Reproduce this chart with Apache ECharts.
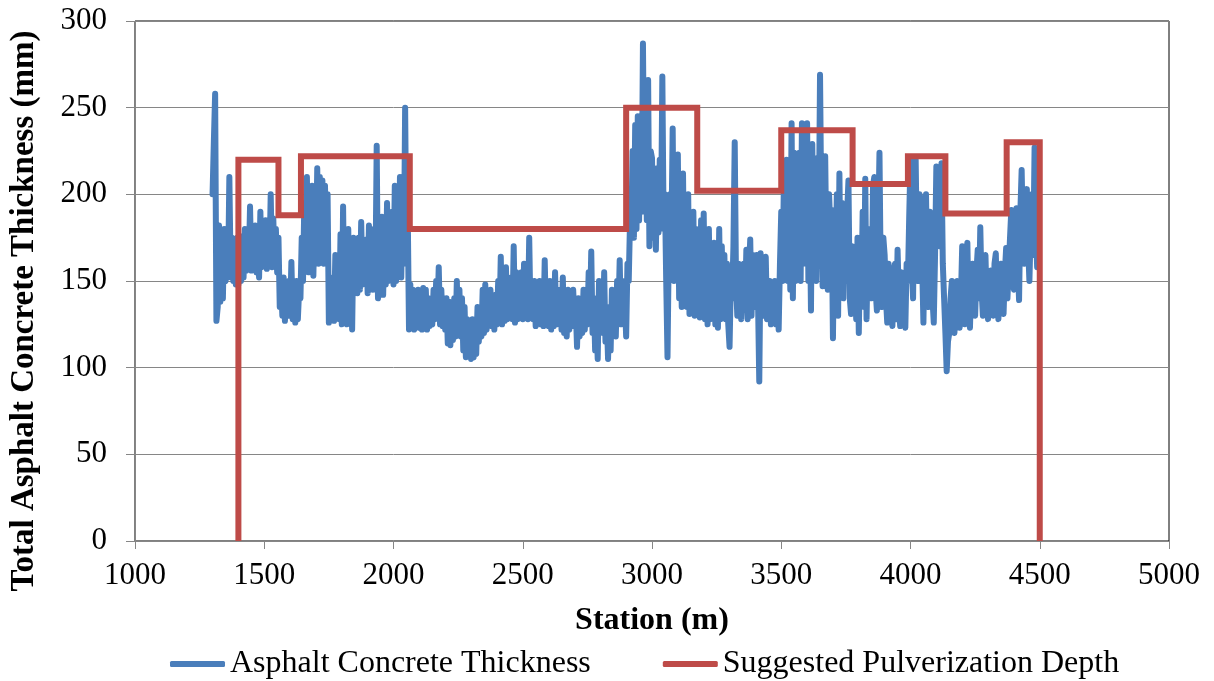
<!DOCTYPE html>
<html>
<head>
<meta charset="utf-8">
<title>Asphalt Concrete Thickness</title>
<script src="https://cdn.jsdelivr.net/npm/echarts@6/dist/echarts.min.js"></script>
<style>
  html, body { margin: 0; padding: 0; background: #fff; }
  #panel { width: 1214px; height: 681px; }
</style>
</head>
<body>
<div id="panel"></div>
<script>
// station (m), one reading every 5 m
var stations = [
  1300, 1305, 1310, 1315, 1320, 1325, 1330, 1335, 1340, 1345, 1350, 1355, 1360, 1365, 1370, 1375, 1380, 1385, 1390, 1395,
  1400, 1405, 1410, 1415, 1420, 1425, 1430, 1435, 1440, 1445, 1450, 1455, 1460, 1465, 1470, 1475, 1480, 1485, 1490, 1495,
  1500, 1505, 1510, 1515, 1520, 1525, 1530, 1535, 1540, 1545, 1550, 1555, 1560, 1565, 1570, 1575, 1580, 1585, 1590, 1595,
  1600, 1605, 1610, 1615, 1620, 1625, 1630, 1635, 1640, 1645, 1650, 1655, 1660, 1665, 1670, 1675, 1680, 1685, 1690, 1695,
  1700, 1705, 1710, 1715, 1720, 1725, 1730, 1735, 1740, 1745, 1750, 1755, 1760, 1765, 1770, 1775, 1780, 1785, 1790, 1795,
  1800, 1805, 1810, 1815, 1820, 1825, 1830, 1835, 1840, 1845, 1850, 1855, 1860, 1865, 1870, 1875, 1880, 1885, 1890, 1895,
  1900, 1905, 1910, 1915, 1920, 1925, 1930, 1935, 1940, 1945, 1950, 1955, 1960, 1965, 1970, 1975, 1980, 1985, 1990, 1995,
  2000, 2005, 2010, 2015, 2020, 2025, 2030, 2035, 2040, 2045, 2050, 2055, 2060, 2065, 2070, 2075, 2080, 2085, 2090, 2095,
  2100, 2105, 2110, 2115, 2120, 2125, 2130, 2135, 2140, 2145, 2150, 2155, 2160, 2165, 2170, 2175, 2180, 2185, 2190, 2195,
  2200, 2205, 2210, 2215, 2220, 2225, 2230, 2235, 2240, 2245, 2250, 2255, 2260, 2265, 2270, 2275, 2280, 2285, 2290, 2295,
  2300, 2305, 2310, 2315, 2320, 2325, 2330, 2335, 2340, 2345, 2350, 2355, 2360, 2365, 2370, 2375, 2380, 2385, 2390, 2395,
  2400, 2405, 2410, 2415, 2420, 2425, 2430, 2435, 2440, 2445, 2450, 2455, 2460, 2465, 2470, 2475, 2480, 2485, 2490, 2495,
  2500, 2505, 2510, 2515, 2520, 2525, 2530, 2535, 2540, 2545, 2550, 2555, 2560, 2565, 2570, 2575, 2580, 2585, 2590, 2595,
  2600, 2605, 2610, 2615, 2620, 2625, 2630, 2635, 2640, 2645, 2650, 2655, 2660, 2665, 2670, 2675, 2680, 2685, 2690, 2695,
  2700, 2705, 2710, 2715, 2720, 2725, 2730, 2735, 2740, 2745, 2750, 2755, 2760, 2765, 2770, 2775, 2780, 2785, 2790, 2795,
  2800, 2805, 2810, 2815, 2820, 2825, 2830, 2835, 2840, 2845, 2850, 2855, 2860, 2865, 2870, 2875, 2880, 2885, 2890, 2895,
  2900, 2905, 2910, 2915, 2920, 2925, 2930, 2935, 2940, 2945, 2950, 2955, 2960, 2965, 2970, 2975, 2980, 2985, 2990, 2995,
  3000, 3005, 3010, 3015, 3020, 3025, 3030, 3035, 3040, 3045, 3050, 3055, 3060, 3065, 3070, 3075, 3080, 3085, 3090, 3095,
  3100, 3105, 3110, 3115, 3120, 3125, 3130, 3135, 3140, 3145, 3150, 3155, 3160, 3165, 3170, 3175, 3180, 3185, 3190, 3195,
  3200, 3205, 3210, 3215, 3220, 3225, 3230, 3235, 3240, 3245, 3250, 3255, 3260, 3265, 3270, 3275, 3280, 3285, 3290, 3295,
  3300, 3305, 3310, 3315, 3320, 3325, 3330, 3335, 3340, 3345, 3350, 3355, 3360, 3365, 3370, 3375, 3380, 3385, 3390, 3395,
  3400, 3405, 3410, 3415, 3420, 3425, 3430, 3435, 3440, 3445, 3450, 3455, 3460, 3465, 3470, 3475, 3480, 3485, 3490, 3495,
  3500, 3505, 3510, 3515, 3520, 3525, 3530, 3535, 3540, 3545, 3550, 3555, 3560, 3565, 3570, 3575, 3580, 3585, 3590, 3595,
  3600, 3605, 3610, 3615, 3620, 3625, 3630, 3635, 3640, 3645, 3650, 3655, 3660, 3665, 3670, 3675, 3680, 3685, 3690, 3695,
  3700, 3705, 3710, 3715, 3720, 3725, 3730, 3735, 3740, 3745, 3750, 3755, 3760, 3765, 3770, 3775, 3780, 3785, 3790, 3795,
  3800, 3805, 3810, 3815, 3820, 3825, 3830, 3835, 3840, 3845, 3850, 3855, 3860, 3865, 3870, 3875, 3880, 3885, 3890, 3895,
  3900, 3905, 3910, 3915, 3920, 3925, 3930, 3935, 3940, 3945, 3950, 3955, 3960, 3965, 3970, 3975, 3980, 3985, 3990, 3995,
  4000, 4005, 4010, 4015, 4020, 4025, 4030, 4035, 4040, 4045, 4050, 4055, 4060, 4065, 4070, 4075, 4080, 4085, 4090, 4095,
  4100, 4105, 4110, 4115, 4120, 4125, 4130, 4135, 4140, 4145, 4150, 4155, 4160, 4165, 4170, 4175, 4180, 4185, 4190, 4195,
  4200, 4205, 4210, 4215, 4220, 4225, 4230, 4235, 4240, 4245, 4250, 4255, 4260, 4265, 4270, 4275, 4280, 4285, 4290, 4295,
  4300, 4305, 4310, 4315, 4320, 4325, 4330, 4335, 4340, 4345, 4350, 4355, 4360, 4365, 4370, 4375, 4380, 4385, 4390, 4395,
  4400, 4405, 4410, 4415, 4420, 4425, 4430, 4435, 4440, 4445, 4450, 4455, 4460, 4465, 4470, 4475, 4480, 4485, 4490, 4495
];

// total asphalt concrete thickness (mm)
var thickness = [
  200, 230, 258, 127, 135, 182, 138, 175, 140, 180, 150, 165, 152, 210, 155, 175, 150, 170, 148, 175,
  148, 176, 150, 170, 152, 180, 156, 178, 158, 193, 156, 175, 160, 182, 155, 178, 152, 190, 158, 172,
  160, 185, 157, 178, 160, 200, 158, 186, 160, 180, 155, 175, 135, 150, 130, 152, 127, 148, 130, 150,
  130, 161, 128, 148, 126, 150, 128, 145, 140, 175, 150, 195, 160, 210, 155, 200, 165, 205, 153, 190,
  165, 215, 160, 210, 165, 208, 160, 205, 162, 200, 126, 152, 128, 150, 127, 165, 130, 160, 128, 177,
  125, 193, 128, 170, 125, 180, 128, 165, 122, 175, 145, 170, 143, 175, 145, 184, 148, 172, 150, 174,
  143, 182, 148, 176, 145, 180, 150, 228, 140, 175, 145, 187, 142, 180, 148, 195, 150, 185, 152, 190,
  148, 205, 150, 200, 155, 210, 152, 195, 160, 250, 165, 190, 122, 148, 124, 145, 122, 140, 125, 145,
  123, 142, 122, 146, 124, 145, 122, 140, 124, 138, 125, 145, 128, 150, 130, 158, 125, 145, 124, 140,
  122, 140, 114, 138, 113, 135, 116, 140, 118, 150, 120, 145, 118, 140, 110, 135, 106, 128, 108, 125,
  105, 128, 106, 125, 108, 135, 115, 130, 118, 145, 120, 148, 122, 140, 125, 145, 124, 138, 122, 142,
  125, 150, 128, 164, 125, 150, 127, 158, 128, 150, 130, 152, 128, 170, 126, 155, 128, 150, 130, 155,
  128, 160, 130, 155, 128, 175, 130, 150, 128, 150, 124, 148, 126, 150, 125, 145, 124, 162, 128, 150,
  124, 150, 122, 145, 124, 155, 125, 145, 126, 145, 122, 152, 120, 140, 118, 145, 122, 140, 124, 145,
  128, 135, 112, 140, 118, 138, 120, 145, 122, 140, 125, 155, 130, 167, 120, 140, 110, 130, 105, 150,
  125, 140, 120, 155, 115, 130, 105, 135, 110, 145, 125, 140, 118, 150, 130, 162, 125, 150, 128, 140,
  118, 160, 150, 185, 180, 225, 175, 240, 180, 245, 185, 230, 190, 287, 200, 240, 185, 266, 170, 225,
  221, 175, 210, 168, 215, 178, 220, 185, 268, 180, 200, 150, 106, 170, 200, 175, 238, 150, 210, 160,
  223, 140, 205, 135, 212, 140, 190, 135, 200, 131, 185, 135, 190, 130, 180, 140, 175, 129, 185, 130,
  189, 128, 175, 125, 180, 128, 170, 130, 172, 125, 165, 123, 180, 128, 170, 130, 165, 128, 160, 125,
  112, 150, 140, 170, 230, 150, 130, 160, 150, 128, 127, 160, 135, 168, 128, 155, 174, 130, 165, 135,
  150, 165, 140, 92, 166, 135, 130, 160, 164, 128, 140, 150, 125, 145, 130, 150, 125, 145, 122, 160,
  190, 150, 205, 165, 220, 150, 200, 145, 241, 140, 224, 150, 200, 160, 224, 150, 241, 160, 215, 165,
  241, 150, 200, 133, 229, 160, 210, 150, 221, 175, 269, 190, 147, 200, 222, 160, 145, 200, 180, 191,
  117, 180, 150, 200, 130, 212, 145, 195, 140, 185, 150, 190, 208, 140, 131, 170, 165, 150, 128, 175,
  120, 168, 140, 190, 135, 209, 128, 170, 150, 180, 140, 205, 210, 145, 133, 180, 224, 150, 135, 175,
  165, 140, 126, 160, 150, 130, 124, 155, 160, 128, 168, 140, 124, 155, 150, 128, 123, 160, 150, 187,
  220, 160, 140, 210, 220, 165, 150, 200, 197, 160, 126, 175, 200, 150, 135, 190, 180, 140, 126, 165,
  216, 180, 195, 170, 218, 160, 140, 120, 98, 115, 120, 140, 150, 125, 120, 145, 150, 128, 123, 140,
  170, 130, 125, 165, 172, 130, 123, 150, 160, 135, 130, 155, 168, 140, 181, 145, 130, 160, 165, 135,
  128, 150, 156, 135, 130, 160, 166, 135, 128, 150, 160, 138, 131, 155, 169, 140, 140, 175, 191, 150,
  145, 180, 192, 160, 139, 190, 214, 175, 160, 195, 203, 170, 150, 180, 200, 165, 227, 180, 158, 160
];

// suggested pulverization depth (mm), step changes at these stations
var depthStations = [1400, 1400, 1555, 1642, 2063, 2900, 3175, 3500, 3776, 3990, 4135, 4372, 4500, 4500];
var depthValues   = [0,    220,  188,  222,  180,  250,  202,  237,  206,  222,  189,  230,  230,  0];

var xTicks = [1000, 5000, 500];
var yTicks = [0, 300, 50];

var FONT = '"Liberation Serif", "Times New Roman", serif';

var thicknessData = stations.map(function (s, i) { return [s, thickness[i]]; });
var depthData = depthStations.map(function (s, i) { return [s, depthValues[i]]; });

var myChart = echarts.init(document.getElementById('panel'), null, { renderer: 'canvas' });

var option = {
  backgroundColor: '#ffffff',
  animation: false,
  textStyle: { fontFamily: FONT },
  grid: {
    left: 133,
    right: 45,
    top: 21,
    bottom: 140,
    show: true,
    borderColor: '#000000',
    borderWidth: 1
  },
  legend: {
    left: 165,
    top: 643,
    itemWidth: 55,
    itemHeight: 6,
    itemGap: 72,
    icon: 'roundRect',
    textStyle: { fontFamily: FONT, fontSize: 32, color: '#000' },
    data: ['Asphalt Concrete Thickness', 'Suggested Pulverization Depth']
  },
  xAxis: {
    type: 'value',
    min: xTicks[0],
    max: xTicks[1],
    interval: xTicks[2],
    name: 'Station (m)',
    nameLocation: 'middle',
    nameGap: 64,
    nameTextStyle: { fontFamily: FONT, fontSize: 32, fontWeight: 'bold', color: '#000' },
    axisLine: { show: true, lineStyle: { color: '#868686', width: 1 } },
    axisTick: { show: true, length: 8, lineStyle: { color: '#868686' } },
    axisLabel: {
      margin: 19, fontFamily: FONT, fontSize: 31, color: '#000',
      formatter: function (v) { return String(v); }
    },
    splitLine: { show: false }
  },
  yAxis: {
    type: 'value',
    min: yTicks[0],
    max: yTicks[1],
    interval: yTicks[2],
    name: 'Total Asphalt Concrete Thickness (mm)',
    nameLocation: 'middle',
    nameGap: 94,
    nameTextStyle: {
      fontFamily: FONT, fontSize: 33, fontWeight: 'bold', color: '#000',
      // push the title down a little, as in the original
      padding: [0, 60, 0, 0]
    },
    axisLine: { show: true, lineStyle: { color: '#868686', width: 1 } },
    axisTick: { show: true, length: 9, lineStyle: { color: '#868686' } },
    axisLabel: {
      margin: 28, fontFamily: FONT, fontSize: 31, color: '#000',
      formatter: function (v) { return String(v); }
    },
    splitLine: { show: true, lineStyle: { color: '#868686', width: 1 } }
  },
  series: [
    {
      name: 'Asphalt Concrete Thickness',
      type: 'line',
      data: thicknessData,
      showSymbol: false,
      symbol: 'none',
      color: '#4A7EBB',
      lineStyle: { color: '#4A7EBB', width: 6, cap: 'round', join: 'round' },
      z: 2
    },
    {
      name: 'Suggested Pulverization Depth',
      type: 'line',
      step: 'end',
      data: depthData,
      showSymbol: false,
      symbol: 'none',
      color: '#BE4B48',
      lineStyle: { color: '#BE4B48', width: 6, join: 'miter' },
      z: 3
    }
  ]
};

myChart.setOption(option);
</script>
</body>
</html>
